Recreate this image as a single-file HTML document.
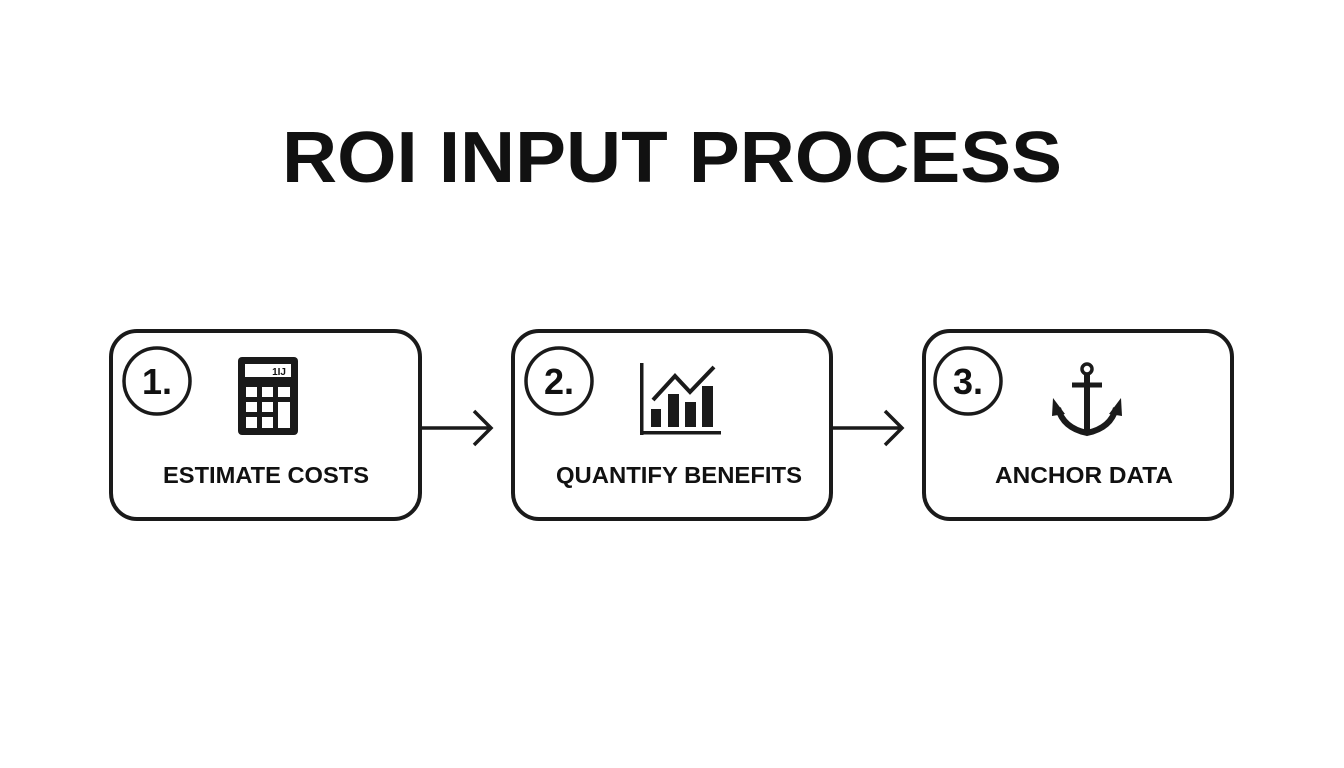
<!DOCTYPE html>
<html><head><meta charset="utf-8"><style>
html,body{margin:0;padding:0;background:#fff;}
svg{display:block;}
text{font-family:"Liberation Sans",sans-serif;font-weight:bold;fill:#111;}
</style></head><body>
<svg width="1344" height="768" viewBox="0 0 1344 768">
<rect width="1344" height="768" fill="#fff"/>
<text x="672" y="182" font-size="72" text-anchor="middle" textLength="780" lengthAdjust="spacingAndGlyphs">ROI INPUT PROCESS</text>
<g fill="none" stroke="#1a1a1a" stroke-width="4">
<rect x="111" y="331" width="309" height="188" rx="26"/>
<rect x="513" y="331" width="318" height="188" rx="26"/>
<rect x="924" y="331" width="308" height="188" rx="26"/>
<circle cx="157" cy="381" r="33" stroke-width="3.5"/>
<circle cx="559" cy="381" r="33" stroke-width="3.5"/>
<circle cx="968" cy="381" r="33" stroke-width="3.5"/>
<path d="M421 428H490M474 411L491 428L474 445" stroke-width="3.5"/>
<path d="M832 428H901M885 411L902 428L885 445" stroke-width="3.5"/>
</g>
<text x="157" y="394" font-size="36" text-anchor="middle">1.</text>
<text x="559" y="394" font-size="36" text-anchor="middle">2.</text>
<text x="968" y="394" font-size="36" text-anchor="middle">3.</text>
<text x="266" y="483" font-size="23" text-anchor="middle" textLength="206" lengthAdjust="spacingAndGlyphs">ESTIMATE COSTS</text>
<text x="679" y="483" font-size="23" text-anchor="middle" textLength="246" lengthAdjust="spacingAndGlyphs">QUANTIFY BENEFITS</text>
<text x="1084" y="483" font-size="23" text-anchor="middle" textLength="178" lengthAdjust="spacingAndGlyphs">ANCHOR DATA</text>
<rect x="238" y="357" width="60" height="78" rx="4" fill="#1a1a1a"/>
<rect x="245" y="364" width="46" height="13" fill="#fff"/>
<text x="286" y="375" font-size="10" text-anchor="end">1IJ</text>
<g fill="#fff">
<rect x="246" y="387" width="11" height="10"/><rect x="262" y="387" width="11" height="10"/><rect x="278" y="387" width="12" height="10"/>
<rect x="246" y="402" width="11" height="10"/><rect x="262" y="402" width="11" height="10"/><rect x="278" y="402" width="12" height="26"/>
<rect x="246" y="417" width="11" height="11"/><rect x="262" y="417" width="11" height="11"/>
</g>
<g fill="#1a1a1a">
<rect x="640" y="363" width="3.5" height="72"/><rect x="640" y="431" width="81" height="3.5"/>
<rect x="651" y="409" width="10" height="18"/><rect x="668" y="394" width="11" height="33"/>
<rect x="685" y="402" width="11" height="25"/><rect x="702" y="386" width="11" height="41"/>
</g>
<path d="M653 400L675 376L690 392L714 367" fill="none" stroke="#1a1a1a" stroke-width="4"/>
<g stroke="#1a1a1a" fill="none">
<circle cx="1087" cy="369" r="5" stroke-width="3.5"/>
<path d="M1087 374V430" stroke-width="6"/>
<path d="M1072 385H1102" stroke-width="5"/>
<path d="M1058 408Q1063 428 1087 433Q1111 428 1116 408" stroke-width="6"/>
</g>
<path d="M1053 398L1065 414L1052 416Z M1121 398L1109 414L1122 416Z" fill="#1a1a1a"/>
</svg>
</body></html>
